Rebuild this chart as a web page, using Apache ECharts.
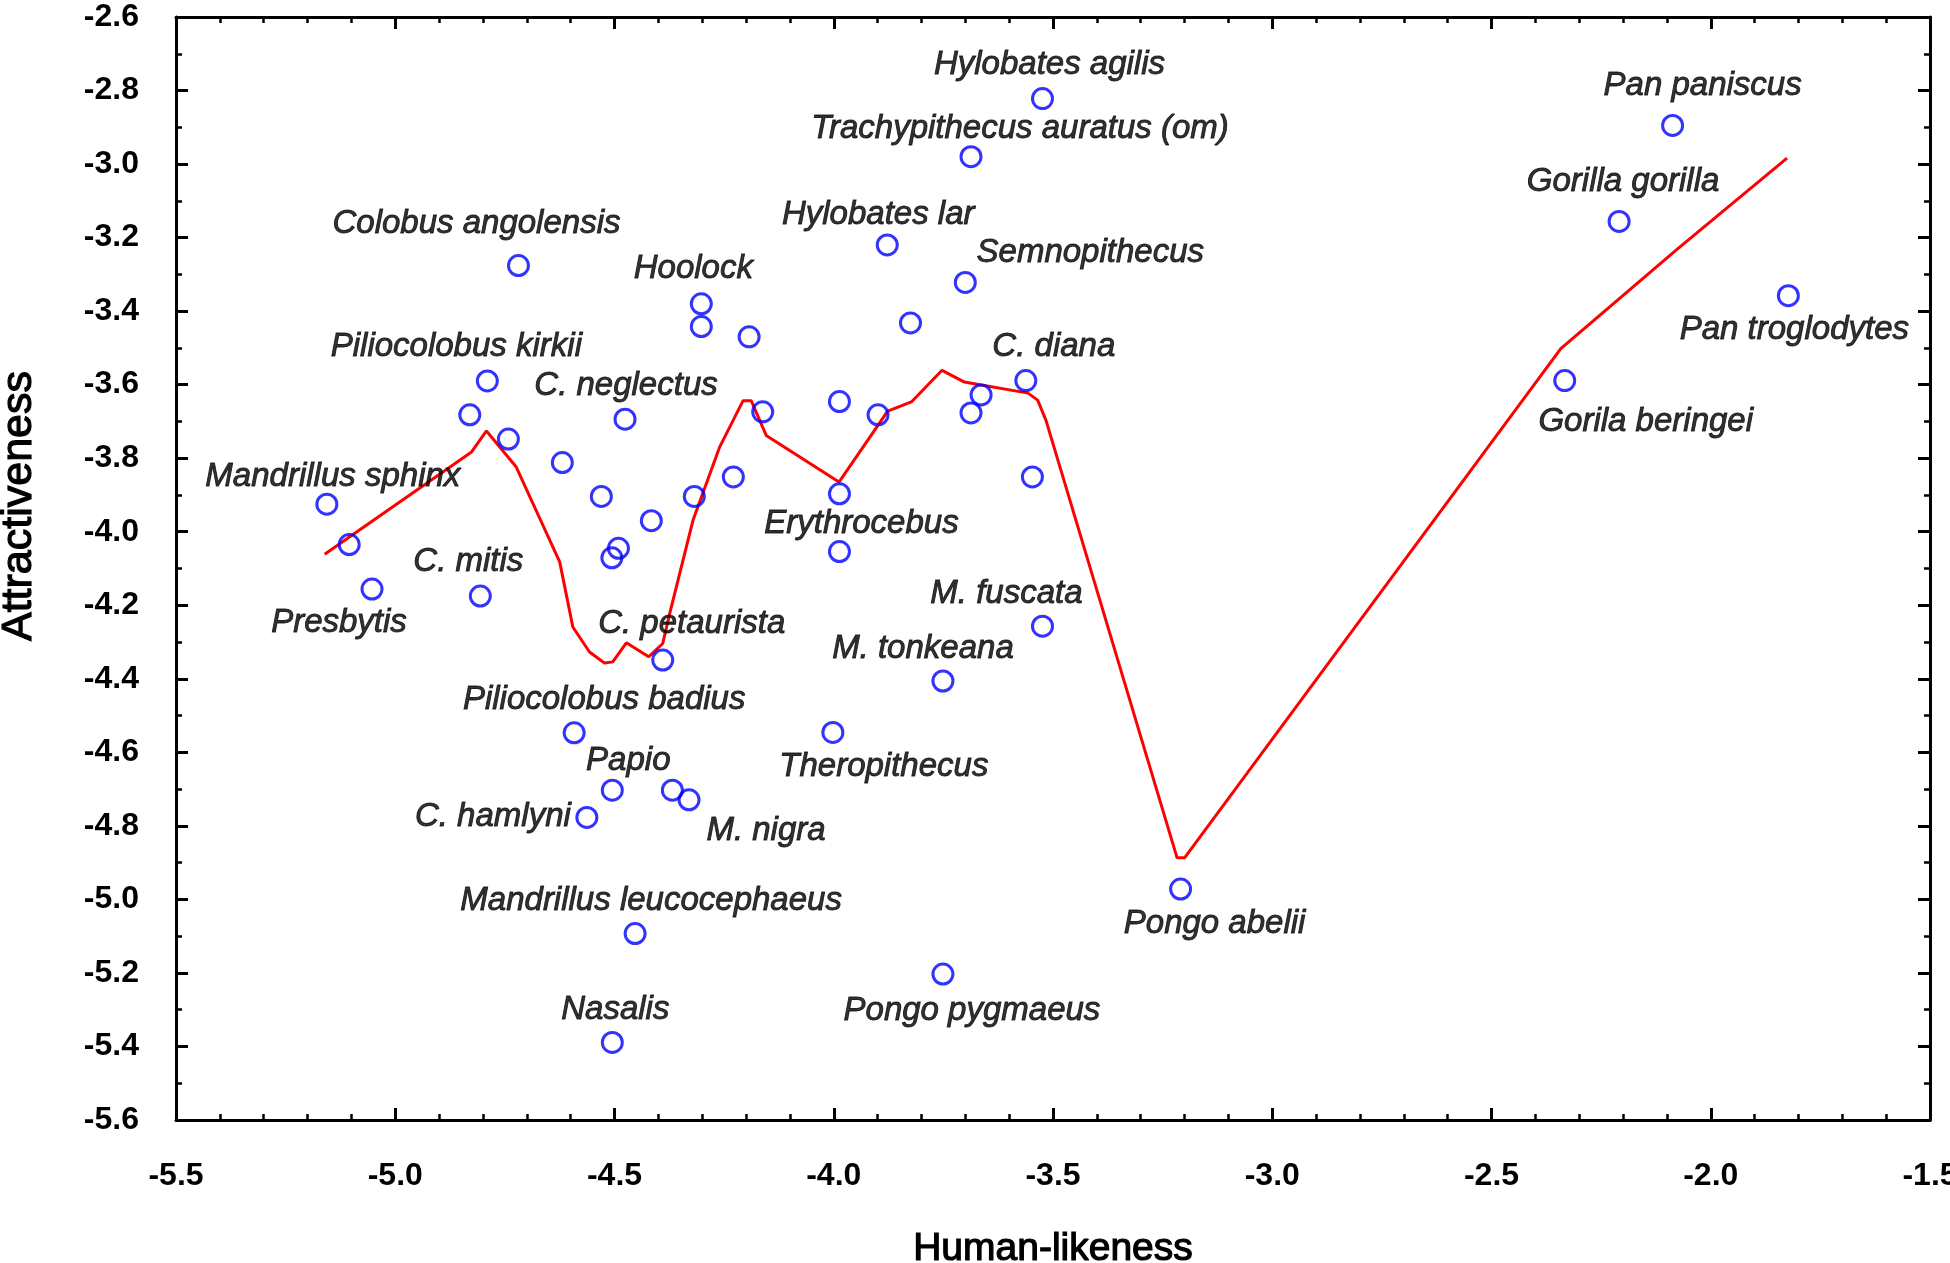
<!DOCTYPE html>
<html>
<head>
<meta charset="utf-8">
<script src="https://cdn.jsdelivr.net/npm/echarts@6/dist/echarts.min.js"></script>
<style>
  html, body { margin: 0; padding: 0; background: #fff; }
  #chart { width: 1950px; height: 1263px; }
</style>
</head>
<body>
<div id="chart"></div>
<script>
// species (blank = unlabelled point)
const species = [
  'Hylobates agilis', 'Trachypithecus auratus (om)', 'Hylobates lar', 'Semnopithecus', '',
  'Hoolock', '', '', 'C. diana', '',
  '', '', '', '', '',
  '', '', '', 'Erythrocebus', '',
  'M. fuscata', 'Colobus angolensis', 'Piliocolobus kirkii', '', '',
  '', '', 'C. neglectus', 'Mandrillus sphinx', '',
  'Presbytis', 'C. mitis', '', '', 'Piliocolobus badius',
  'Papio', 'C. hamlyni', 'Mandrillus leucocephaeus', 'Nasalis', 'C. petaurista',
  'M. tonkeana', 'Theropithecus', '', 'M. nigra', 'Pongo abelii',
  'Pongo pygmaeus', 'Pan paniscus', 'Gorilla gorilla', 'Pan troglodytes', 'Gorila beringei'
];
const humanLikeness = [
  -3.524, -3.687, -3.878, -3.700, -3.825,
  -4.302, -4.302, -4.193, -3.562, -3.664,
  -3.687, -3.987, -3.899, -4.162, -4.229,
  -4.318, -4.416, -3.987, -3.987, -3.547,
  -3.524, -4.719, -4.790, -4.830, -4.742,
  -4.619, -4.530, -4.476, -5.156, -5.105,
  -5.053, -4.806, -4.491, -4.506, -4.592,
  -4.505, -4.563, -4.453, -4.505, -4.390,
  -3.751, -4.002, -4.368, -4.330, -3.209,
  -3.751, -2.087, -2.209, -1.823, -2.333
];
const attractiveness = [
  -2.822, -2.980, -3.220, -3.322, -3.432,
  -3.380, -3.442, -3.470, -3.589, -3.628,
  -3.677, -3.646, -3.682, -3.674, -3.851,
  -3.904, -3.970, -3.897, -4.054, -3.851,
  -4.257, -3.276, -3.590, -3.682, -3.748,
  -3.812, -3.904, -3.694, -3.925, -4.035,
  -4.156, -4.175, -4.045, -4.071, -4.547,
  -4.703, -4.777, -5.093, -5.389, -4.349,
  -4.406, -4.546, -4.703, -4.729, -4.972,
  -5.203, -2.895, -3.156, -3.358, -3.589
];

// smoothed fit
const fitX = [-5.161, -4.826, -4.792, -4.724, -4.625, -4.595, -4.557, -4.523, -4.504, -4.473,
  -4.422, -4.390, -4.374, -4.321, -4.260, -4.207, -4.188, -4.154, -3.988, -3.877,
  -3.823, -3.753, -3.702, -3.557, -3.535, -3.516, -3.217, -3.200, -2.342, -2.077, -1.826];
const fitY = [-4.061, -3.783, -3.726, -3.824, -4.082, -4.259, -4.327, -4.357, -4.354, -4.302,
  -4.340, -4.304, -4.222, -3.969, -3.769, -3.644, -3.644, -3.738, -3.865, -3.672,
  -3.647, -3.561, -3.593, -3.623, -3.642, -3.697, -4.887, -4.887, -3.502, -3.232, -2.984];

// label placement, px offset from the marker
const labelOffset = {
  'Hylobates agilis': [7, -34], 'Trachypithecus auratus (om)': [49, -28],
  'Hylobates lar': [-9, -30], 'Semnopithecus': [125, -30], 'Hoolock': [-8, -35],
  'C. diana': [28, -34], 'Erythrocebus': [22, -28], 'M. fuscata': [-36, -32],
  'Colobus angolensis': [-42, -42], 'Piliocolobus kirkii': [-31, -34],
  'C. neglectus': [1, -33], 'Mandrillus sphinx': [6, -27], 'Presbytis': [-33, 34],
  'C. mitis': [-12, -34], 'C. petaurista': [29, -36], 'Piliocolobus badius': [30, -33],
  'Papio': [16, -29], 'C. hamlyni': [-94, -1], 'M. nigra': [77, 31],
  'Mandrillus leucocephaeus': [16, -33], 'Nasalis': [3, -33], 'M. tonkeana': [-20, -32],
  'Theropithecus': [51, 34], 'Pongo pygmaeus': [29, 37], 'Pongo abelii': [34, 35],
  'Pan paniscus': [30, -40], 'Gorilla gorilla': [4, -40], 'Pan troglodytes': [6, 34],
  'Gorila beringei': [81, 41]
};

const FONT = 'Liberation Sans, Arial, sans-serif';

const points = species.map((name, i) => ({
  value: [humanLikeness[i], attractiveness[i]],
  label: name ? { show: true, formatter: name, offset: labelOffset[name] } : { show: false }
}));

const axisCommon = {
  type: 'value',
  axisLine: { show: true, lineStyle: { color: '#000', width: 3 } },
  axisTick: { show: true, inside: true, length: 12, lineStyle: { color: '#000', width: 3 } },
  minorTick: { show: true, length: 6, lineStyle: { color: '#000', width: 2.5 } },
  splitLine: { show: false },
  minorSplitLine: { show: false }
};

const tickLabel = {
  fontFamily: FONT, fontSize: 32, fontWeight: 'bold', color: '#000',
  formatter: v => v.toFixed(1)
};

const chart = echarts.init(document.getElementById('chart'));
chart.setOption({
  backgroundColor: '#fff',
  animation: false,
  grid: { left: 176, right: 20, top: 17, bottom: 143, containLabel: false, outerBoundsMode: 'none' },
  xAxis: [
    Object.assign({}, axisCommon, {
      min: -5.5, max: -1.5, interval: 0.5,
      minorTick: Object.assign({}, axisCommon.minorTick, { splitNumber: 5 }),
      name: 'Human-likeness', nameLocation: 'middle', nameGap: 110,
      nameTextStyle: { fontFamily: FONT, fontSize: 39, color: '#000',
        textBorderColor: '#000', textBorderWidth: 1.2 },
      axisLabel: Object.assign({ margin: 40 }, tickLabel)
    }),
    Object.assign({}, axisCommon, {
      position: 'top', min: -5.5, max: -1.5, interval: 0.5,
      minorTick: Object.assign({}, axisCommon.minorTick, { splitNumber: 5 }),
      axisLabel: { show: false }
    })
  ],
  yAxis: [
    Object.assign({}, axisCommon, {
      min: -5.6, max: -2.6, interval: 0.2,
      minorTick: Object.assign({}, axisCommon.minorTick, { splitNumber: 2 }),
      axisLabel: Object.assign({ margin: 37 }, tickLabel)
    }),
    Object.assign({}, axisCommon, {
      position: 'right', min: -5.6, max: -2.6, interval: 0.2,
      minorTick: Object.assign({}, axisCommon.minorTick, { splitNumber: 2 }),
      axisLabel: { show: false }
    })
  ],
  graphic: [{
    type: 'text', x: 19, y: 506, rotation: Math.PI / 2,
    style: { text: 'Attractiveness', fontFamily: FONT, fontSize: 43, fill: '#000',
      stroke: '#000', lineWidth: 1.2,
      textAlign: 'center', textVerticalAlign: 'middle' }
  }],
  series: [
    {
      type: 'line',
      data: fitX.map((x, i) => [x, fitY[i]]),
      showSymbol: false,
      lineStyle: { color: '#ff0000', width: 3 },
      z: 2
    },
    {
      type: 'scatter',
      data: points,
      symbol: 'circle',
      symbolSize: 20,
      itemStyle: { color: 'rgba(0,0,0,0)', borderColor: '#0000ff', borderWidth: 3 },
      label: { position: 'inside', fontFamily: FONT, fontSize: 33, fontStyle: 'italic', color: '#000',
        textBorderColor: '#000', textBorderWidth: 0.9 },
      z: 3
    }
  ]
});
</script>
</body>
</html>
